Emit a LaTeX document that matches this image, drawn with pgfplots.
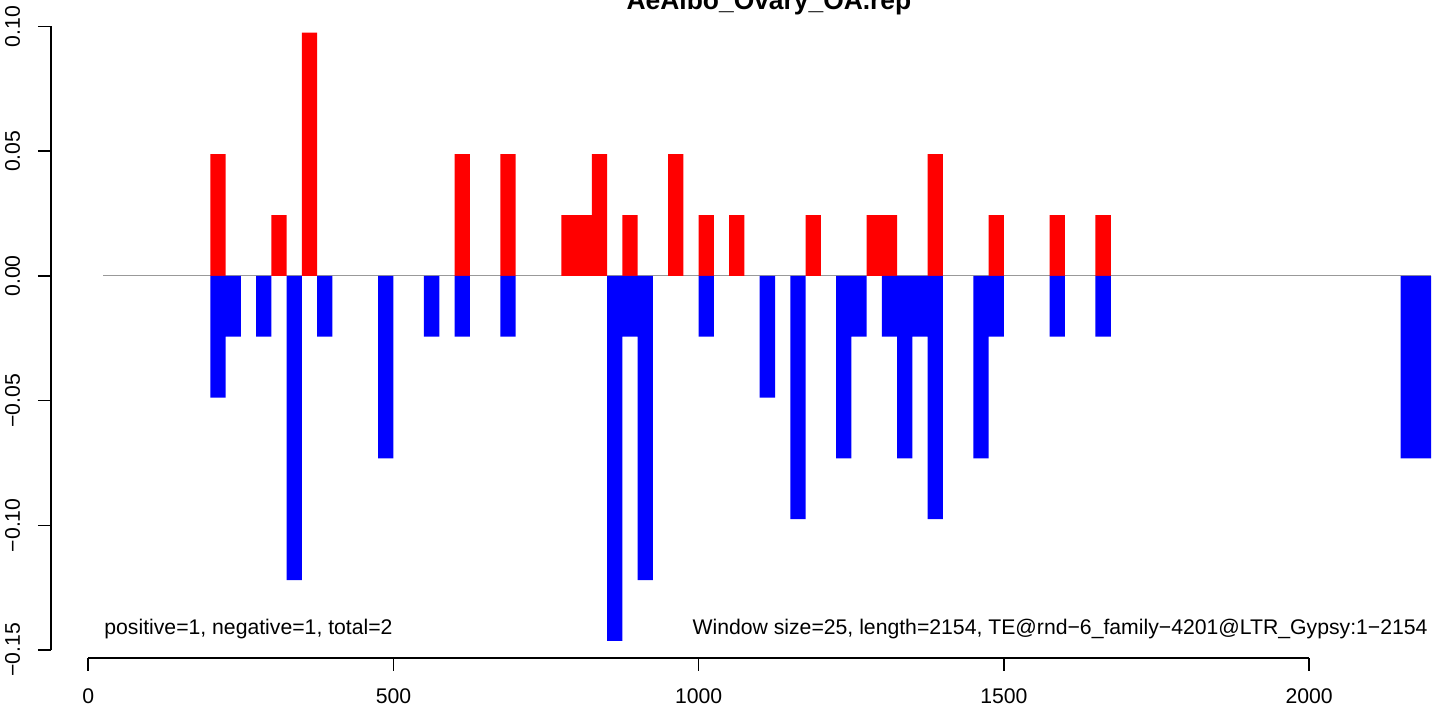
\documentclass[border=0pt]{standalone}
\usepackage{fontspec}
\setmainfont{Liberation Sans}
\usepackage{pgfplots}
\pgfplotsset{compat=1.18}

% window start, value (counts / 41)
\begin{document}
\begin{tikzpicture}
\useasboundingbox (0,0) rectangle (720.5pt,352pt);
\begin{axis}[
    at={(25.5pt,23pt)}, anchor=south west,
    scale only axis, width=695pt, height=325pt,
    xmin=-61, xmax=2216, ymin=-0.1532, ymax=0.1074,
    clip=false,
    axis line style={draw=none},
    tick align=outside, major tick length=6.5pt,
    tick style={black, line width=0.75pt},
    xtick pos=bottom, ytick pos=left,
    xtick={0,500,1000,1500,2000},
    xticklabels={0,500,1000,1500,2000},
    ytick={-0.15,-0.1,-0.05,0,0.05,0.1},
    yticklabels={−0.15,−0.10,−0.05,0.00,0.05,0.10},
    tick label style={font=\fontsize{10.6}{12}\selectfont},
    xticklabel style={anchor=base, yshift=-16.5pt},
    yticklabel style={rotate=90, anchor=base, yshift=9pt},
    ybar, bar width=25, bar shift=0pt,
  ]
  \addplot[ybar=0pt, sharp plot, draw=gray!80, line width=0.5pt, fill=none] coordinates {(25,0) (2200,0)};

  % positive windows
  \addplot[fill=red, draw=none] coordinates {
    (212.5,0.04878) (312.5,0.02439) (362.5,0.09756) (612.5,0.04878)
    (687.5,0.04878) (787.5,0.02439) (812.5,0.02439) (837.5,0.04878)
    (887.5,0.02439) (962.5,0.04878) (1012.5,0.02439) (1062.5,0.02439)
    (1187.5,0.02439) (1287.5,0.02439) (1312.5,0.02439) (1387.5,0.04878)
    (1487.5,0.02439) (1587.5,0.02439) (1662.5,0.02439)
  };
  % negative windows
  \addplot[fill=blue, draw=none] coordinates {
    (212.5,-0.04878) (237.5,-0.02439) (287.5,-0.02439) (337.5,-0.12195)
    (387.5,-0.02439) (487.5,-0.07317) (562.5,-0.02439) (612.5,-0.02439)
    (687.5,-0.02439) (862.5,-0.14634) (887.5,-0.02439) (912.5,-0.12195)
    (1012.5,-0.02439) (1112.5,-0.04878) (1162.5,-0.09756) (1237.5,-0.07317)
    (1262.5,-0.02439) (1312.5,-0.02439) (1337.5,-0.07317) (1362.5,-0.02439)
    (1387.5,-0.09756) (1462.5,-0.07317) (1487.5,-0.02439) (1587.5,-0.02439)
    (1662.5,-0.02439) (2162.5,-0.07317) (2187.5,-0.07317)
  };

  \draw[line width=0.75pt] (axis cs:0,-0.1532) -- (axis cs:2000,-0.1532);
  \draw[line width=0.75pt] (axis cs:-61,-0.15) -- (axis cs:-61,0.1);
\end{axis}
\node[anchor=base, font=\fontsize{13.2}{15}\selectfont\bfseries] at (384.5pt,347pt) {AeAlbo\_Ovary\_OA.rep};
\node[anchor=base west, inner sep=0pt, font=\fontsize{10.6}{12}\selectfont] at (52pt,34.5pt) {positive=1, negative=1, total=2};
\node[anchor=base east, inner sep=0pt, font=\fontsize{10.6}{12}\selectfont] at (714pt,34.5pt) {Window size=25, length=2154, TE@rnd−6\_family−4201@LTR\_Gypsy:1−2154};
\end{tikzpicture}
\end{document}
